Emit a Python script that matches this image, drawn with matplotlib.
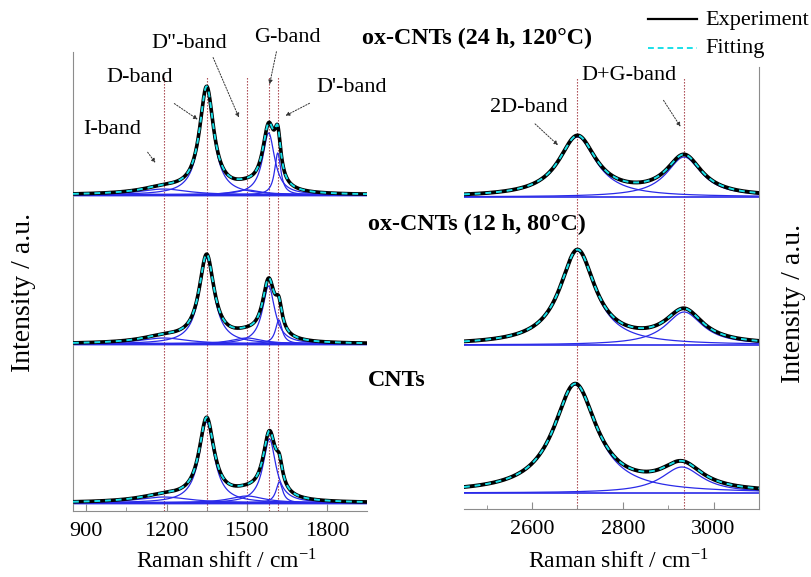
import numpy as np
import matplotlib
matplotlib.use("Agg")
import matplotlib.pyplot as plt

plt.rcParams['font.family'] = ['Liberation Serif', 'DejaVu Serif']
plt.rcParams['mathtext.fontset'] = 'stix'

W, H = 811, 577

# ---------------- data ----------------
samples = ["ox-CNTs (24 h, 120°C)", "ox-CNTs (12 h, 80°C)", "CNTs"]

# first-order region components: I, D, D'', G, D'
left_bands = ["I-band", "D-band", "D\"-band", "G-band", "D'-band"]
left_centers = [[1190, 1350, 1500, 1582, 1616],
                [1190, 1350, 1500, 1582, 1620],
                [1190, 1350, 1500, 1585, 1622]]
left_heights = [[6, 105, 5, 62, 42],
                [6, 86, 6, 58, 24],
                [6, 81, 7, 64, 21]]
left_fwhm = [[220, 64, 130, 55, 28],
             [220, 68, 140, 56, 30],
             [240, 68, 160, 58, 30]]

# second-order region components: 2D, D+G
right_bands = ["2D-band", "D+G-band"]
right_centers = [[2700, 2935], [2700, 2935], [2695, 2930]]
right_heights = [[60, 40], [94, 33], [108, 26]]
right_fwhm = [[100, 95], [95, 100], [115, 110]]

left_xlim = (850, 1950)
right_xlim = (2450, 3100)
left_marks = [1190, 1350, 1500, 1582, 1616]
right_marks = [2700, 2935]

left_ticks = [900, 1200, 1500, 1800]
left_minor = [1050, 1350, 1650]
right_ticks = [2600, 2800, 3000]
right_minor = [2500, 2700, 2900, 3100]

# ---------------- layout ----------------
left_offsets = [316, 167, 8]
right_offsets = [312, 164, 16]


def lorentz(x, c, h, w):
    return h / (1.0 + ((x - c) / (w / 2.0)) ** 2)


fig = plt.figure(figsize=(W / 100, H / 100), dpi=100)


def fpos(x0, y0, x1, y1):
    return [x0 / W, 1 - y1 / H, (x1 - x0) / W, (y1 - y0) / H]


axL = fig.add_axes(fpos(73, 52, 367, 511))
axR = fig.add_axes(fpos(464, 67, 759, 509))

blue = '#2a2ae8'
cyan = '#19e0e8'
red = '#a0323c'
spine_c = '#8c8c8c'


def draw(ax, xlim, centers, heights, fwhms, offsets, marks, mark_top,
         lw_exp, lw_base):
    x = np.linspace(xlim[0], xlim[1], 1200)
    for cs, hs, ws, off in zip(centers, heights, fwhms, offsets):
        total = np.zeros_like(x)
        for c, h, w in zip(cs, hs, ws):
            comp = lorentz(x, c, h, w)
            total += comp
            ax.plot(x, comp + off, color=blue, lw=0.9, zorder=2)
        ax.plot(x, np.full_like(x, off), color=blue, lw=lw_base, zorder=2)
        ax.plot(x, total + off, color='black', lw=lw_exp, zorder=3)
        ax.plot(x, total + off, color=cyan, lw=1.4, ls=(0, (3, 2.5)), zorder=4)
    for m in marks:
        ax.axvline(m, ymin=0, ymax=mark_top, color=red, lw=0.8,
                   ls=(0, (1.2, 1.5)), zorder=1)
    ax.set_yticks([])


draw(axL, left_xlim, left_centers, left_heights, left_fwhm, left_offsets,
     left_marks, 0.946, 2.6, 2.0)
draw(axR, right_xlim, right_centers, right_heights, right_fwhm, right_offsets,
     right_marks, 0.977, 2.8, 1.2)

for ax, ticks, minor, show, xlim, ylim in [
        (axL, left_ticks, left_minor, 'left', left_xlim, 459),
        (axR, right_ticks, right_minor, 'right', right_xlim, 442)]:
    ax.set_xticks(ticks)
    ax.set_xticks(minor, minor=True)
    ax.set_xlim(*xlim)
    ax.set_ylim(0, ylim)
    ax.tick_params(axis='x', which='major', direction='in', length=5,
                   color=spine_c, labelsize=16, pad=8)
    ax.tick_params(axis='x', which='minor', direction='in', length=3,
                   color=spine_c)
    for s in ['left', 'right', 'top', 'bottom']:
        ax.spines[s].set_visible(s in ('bottom', show))
        ax.spines[s].set_color(spine_c)
    ax.patch.set_alpha(0)


def fx(x):
    return x / W


def fy(y):
    return 1 - y / H


# axis labels
fig.text(fx(227), fy(561), r"Raman shift / cm$^{\mathregular{-1}}$", fontsize=17,
         ha='center', va='center')
fig.text(fx(619), fy(561), r"Raman shift / cm$^{\mathregular{-1}}$", fontsize=17,
         ha='center', va='center')
fig.text(fx(24), fy(292), "Intensity / a.u.", fontsize=20, rotation=90,
         ha='center', va='center')
fig.text(fx(793), fy(303), "Intensity / a.u.", fontsize=20, rotation=90,
         ha='center', va='center')

# sample labels
sample_pos = [(362, 38), (368, 224), (368, 381)]
for name, (px, py) in zip(samples, sample_pos):
    fig.text(fx(px), fy(py), name, fontsize=17.3, fontweight='bold',
             ha='left', va='center')

# band annotations
ann = [(left_bands[0], (112, 130), (146, 150), (157, 165)),
       (left_bands[1], (140, 77), (172, 102), (200, 121)),
       (left_bands[2], (189, 43), (212, 55), (240, 120)),
       (left_bands[3], (287, 37), (277, 49), (269, 87)),
       (left_bands[4], (352, 88), (312, 102), (283, 117)),
       (right_bands[0], (529, 107), (533, 122), (560, 147)),
       (right_bands[1], (629, 75), (662, 98), (682, 129))]
for label, tpos, a0, a1 in ann:
    fig.text(fx(tpos[0]), fy(tpos[1]), label, fontsize=16, ha='center',
             va='center')
    fig.add_artist(matplotlib.patches.FancyArrowPatch(
        (fx(a0[0]), fy(a0[1])), (fx(a1[0]), fy(a1[1])),
        transform=fig.transFigure, arrowstyle='-|>', mutation_scale=6,
        color='#333333', lw=0.7, linestyle=(0, (1.5, 1.5))))

# legend
fig.add_artist(matplotlib.lines.Line2D([fx(648), fx(697)], [fy(19), fy(19)],
                                       transform=fig.transFigure,
                                       color='black', lw=1.6))
fig.add_artist(matplotlib.lines.Line2D([fx(648), fx(697)], [fy(48), fy(48)],
                                       transform=fig.transFigure,
                                       color=cyan, lw=1.4, ls=(0, (3, 2))))
fig.text(fx(705), fy(21), "Experiment", fontsize=16, ha='left', va='center')
fig.text(fx(705), fy(49), "Fitting", fontsize=16, ha='left', va='center')

fig.savefig("out.png", dpi=100)
